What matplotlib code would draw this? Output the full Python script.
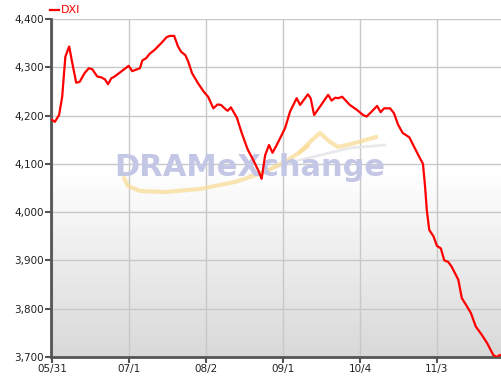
import numpy as np
import matplotlib.pyplot as plt

# trading-day index (x) and DXI value
day = [0, 0.8, 2, 2.9, 3.8, 4.9, 5.7, 6.9, 7.9, 9.3, 10.5, 11.5, 12.9, 14.1, 15.1,
       16, 16.9, 17.9, 21.9, 22.9, 25.1, 25.8, 26.9, 27.9, 29.3, 31.2, 32.7, 33.6,
       34.9, 36, 36.9, 38.1, 38.9, 40, 41.7, 43.4, 44.6, 46.1, 47.3, 48.3, 49.6,
       50.2, 51.1, 52.8, 54.2, 55.9, 57.5, 58.9, 59.9, 60.9, 62, 63, 64.2, 66.6,
       68, 69.9, 70.9, 73.1, 73.9, 74.9, 78.9, 79.9, 80.9, 81.8, 82.9, 85.1, 87.1,
       88.9, 89.9, 91.3, 92.9, 93.9, 94.9, 96.6, 97.7, 98.9, 100.2, 102.1, 103.7,
       104.9, 106, 106.6, 107.1, 107.8, 109, 110, 111.1, 112.1, 113.2, 114.2,
       116.1, 117.1, 118.3, 119.7, 121.1, 122.8, 124.4, 126.1, 127, 128]
dxi = [4191, 4187, 4201, 4239, 4322, 4343, 4312, 4268, 4270, 4288, 4298, 4296, 4281,
       4279, 4275, 4265, 4277, 4281, 4303, 4292, 4298, 4314, 4319, 4328, 4336, 4350,
       4362, 4365, 4365, 4343, 4332, 4325, 4312, 4288, 4267, 4249, 4239, 4215, 4223,
       4222, 4213, 4210, 4217, 4196, 4164, 4130, 4108, 4087, 4069, 4118, 4139, 4123,
       4139, 4174, 4208, 4236, 4222, 4244, 4236, 4201, 4243, 4231, 4237, 4236, 4239,
       4222, 4212, 4201, 4198, 4208, 4220, 4207, 4215, 4215, 4205, 4181, 4164, 4155,
       4132, 4115, 4100, 4053, 4004, 3963, 3950, 3930, 3925, 3900, 3897, 3887, 3860,
       3822, 3808, 3791, 3763, 3746, 3728, 3704, 3700, 3704]

tick_pos = [0, 22, 44, 66, 88, 110]
tick_labels = ['05/31', '07/1', '08/2', '09/1', '10/4', '11/3']
y_ticks = [3700, 3800, 3900, 4000, 4100, 4200, 4300, 4400]

W, H = 501, 378
fig = plt.figure(figsize=(W / 100, H / 100), dpi=100)
ax = fig.add_axes([51 / W, (H - 357) / H, 1 - 51 / W, (357 - 19) / H])

x0, x1 = -0.3, 128.3
ax.set_xlim(x0, x1)
ax.set_ylim(3700, 4400)

# background gradient (white top -> light grey bottom)
grad = np.linspace(0, 1, 256).reshape(-1, 1)
grad = np.clip((grad - 0.45) / 0.55, 0, 1)
cols = np.ones((256, 1, 3)) - grad[..., None] * (1 - 0.85)
ax.imshow(cols, extent=[x0, x1, 3700, 4400], origin='upper', aspect='auto', zorder=0)

ax.grid(True, color='#c8c8c8', lw=1, zorder=1)
ax.set_axisbelow(True)


def px(xp, yp):
    # pixel position -> axes fraction, for the watermark only
    return (np.array(xp) - 51) / 450, (357 - np.array(yp)) / 338


# watermark
wx, wy = px(250, 167)
ax.text(wx, wy, 'DRAMeXchange', transform=ax.transAxes, ha='center', va='center',
        fontsize=22, fontweight='bold', color='#c3c6e4', zorder=1.5)
sx, sy = px([124, 128, 140, 165, 200, 235, 265, 288, 300, 308],
            [178, 186, 191, 192, 189, 182, 172, 160, 152, 146])
ax.plot(sx, sy, transform=ax.transAxes, color='#f9dc98', lw=3, alpha=0.75, zorder=1.4,
        solid_capstyle='round')
zx, zy = px([300, 312, 320, 330, 338, 355, 376], [152, 140, 133, 142, 147, 143, 137])
ax.plot(zx, zy, transform=ax.transAxes, color='#f9dc98', lw=3, alpha=0.75, zorder=1.4)
gx, gy = px([250, 300, 350, 385], [175, 160, 148, 145])
ax.plot(gx, gy, transform=ax.transAxes, color='#e4e4e8', lw=2, alpha=0.8, zorder=1.3)

ax.plot(day, dxi, color='#ff0000', lw=1.6, zorder=3, solid_joinstyle='round')

ax.set_xticks(tick_pos)
ax.set_xticklabels(tick_labels)
ax.set_yticks(y_ticks)
ax.set_yticklabels([f'{v:,}' for v in y_ticks])
ax.tick_params(axis='both', colors='#555555', labelcolor='#222222', labelsize=7.5,
               length=4, width=1.5, direction='out')
ax.tick_params(axis='x', pad=1)
ax.tick_params(axis='y', pad=1)
for s in ['top', 'right']:
    ax.spines[s].set_visible(False)
for s in ['left', 'bottom']:
    ax.spines[s].set_color('#555555')
    ax.spines[s].set_linewidth(2)

# legend
fig.lines.append(plt.Line2D([50 / W, 59 / W], [(H - 10) / H] * 2, color='#ff0000', lw=1.6,
                            transform=fig.transFigure))
fig.text(61 / W, (H - 10) / H, 'DXI', color='#ff0000', fontsize=8, va='center', ha='left')

fig.savefig('out.png', dpi=100)
